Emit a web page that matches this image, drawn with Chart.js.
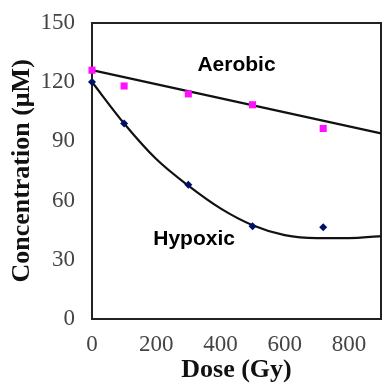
<!DOCTYPE html>
<html>
<head>
<meta charset="utf-8">
<script src="https://cdn.jsdelivr.net/npm/chart.js@4.4.0/dist/chart.umd.min.js"></script>
<style>
  html, body { margin: 0; padding: 0; background: #fff; overflow: hidden; }
  #wrap { width: 386px; height: 386px; }
</style>
</head>
<body>
<div id="wrap"><canvas id="myChart"></canvas></div>
<script>
// measured points
const aerobicDose = [0, 100, 300, 500, 720];
const aerobicConc = [126, 118, 114, 108.5, 96.5];
const hypoxicDose = [0, 100, 300, 500, 720];
const hypoxicConc = [120, 99, 68, 47, 46.5];

// fitted curves
const aerobicFitDose = [0, 900];
const aerobicFitConc = [126, 94];
const hypoxicFitDose = [0, 100, 200, 300, 400, 500, 600, 700, 800, 900];
const hypoxicFitConc = [120, 99, 81, 67.5, 56, 47.5, 42.5, 41, 41, 42];

const yTicks = [0, 30, 60, 90, 120, 150];
const xTicks = [0, 200, 400, 600, 800];

const notes = [
  { text: "Aerobic", x: 450, y: 128.5 },
  { text: "Hypoxic", x: 318, y: 40.5 }
];

const toXY = (xs, ys) => xs.map((x, i) => ({ x: x, y: ys[i] }));

const labelsPlugin = {
  id: "labelsPlugin",
  afterDraw(chart) {
    const ctx = chart.ctx;
    const sx = chart.scales.x, sy = chart.scales.y;
    ctx.save();
    ctx.fillStyle = "#000";
    ctx.font = "bold 21px 'Liberation Sans', Arial, sans-serif";
    ctx.textAlign = "center";
    ctx.textBaseline = "middle";
    notes.forEach(n => {
      ctx.fillText(n.text, sx.getPixelForValue(n.x), sy.getPixelForValue(n.y));
    });
    ctx.restore();
  }
};

const serif = "'Liberation Serif', 'Times New Roman', serif";
const axisLine = { display: true, color: "#222", width: 2 };

const config = {
  type: "scatter",
  data: {
    datasets: [
      {
        label: "Aerobic fit",
        data: toXY(aerobicFitDose, aerobicFitConc),
        showLine: true,
        borderColor: "#111",
        borderWidth: 2.2,
        pointRadius: 0,
        order: 2
      },
      {
        label: "Hypoxic fit",
        data: toXY(hypoxicFitDose, hypoxicFitConc),
        showLine: true,
        borderColor: "#111",
        borderWidth: 2.2,
        pointRadius: 0,
        cubicInterpolationMode: "monotone",
        order: 2
      },
      {
        label: "Aerobic",
        data: toXY(aerobicDose, aerobicConc),
        pointStyle: "rect",
        pointRadius: 5,
        backgroundColor: "#ff10ff",
        borderColor: "#ff10ff",
        borderWidth: 0,
        order: 1
      },
      {
        label: "Hypoxic",
        data: toXY(hypoxicDose, hypoxicConc),
        pointStyle: "rectRot",
        pointRadius: 4,
        backgroundColor: "#00106a",
        borderColor: "#00106a",
        borderWidth: 0,
        order: 1
      }
    ]
  },
  options: {
    responsive: true,
    maintainAspectRatio: false,
    animation: false,
    clip: false,
    layout: { padding: { top: 21, right: 0, left: 7, bottom: 0 } },
    plugins: { legend: { display: false }, tooltip: { enabled: false } },
    scales: {
      x: {
        type: "linear",
        min: 0, max: 900,
        afterBuildTicks: s => { s.ticks = xTicks.map(v => ({ value: v })); },
        afterFit: s => { s.height = 67; },
        grid: { display: false },
        border: axisLine,
        ticks: {
          color: "#444",
          padding: 4,
          maxRotation: 0,
          font: { family: serif, size: 23 }
        },
        title: {
          display: true,
          text: "Dose (Gy)",
          color: "#111",
          padding: { top: 2, bottom: 0 },
          font: { family: serif, size: 26, weight: "bold" }
        }
      },
      x2: {
        type: "linear",
        position: "top",
        min: 0, max: 900,
        afterFit: s => { s.height = 0; },
        grid: { display: false },
        border: axisLine,
        ticks: { display: false }
      },
      y: {
        min: 0, max: 150,
        afterBuildTicks: s => { s.ticks = yTicks.map(v => ({ value: v })); },
        afterFit: s => { s.width = 85; },
        grid: { display: false },
        border: axisLine,
        ticks: {
          color: "#444",
          padding: 9,
          font: { family: serif, size: 23 }
        },
        title: {
          display: true,
          text: "Concentration (\u03bcM)",
          color: "#111",
          padding: { top: 0, bottom: 0 },
          font: { family: serif, size: 26, weight: "bold" }
        }
      },
      y2: {
        position: "right",
        min: 0, max: 150,
        afterFit: s => { s.width = 0; },
        grid: { display: false },
        border: axisLine,
        ticks: { display: false }
      }
    }
  },
  plugins: [labelsPlugin]
};

const myChart = new Chart(document.querySelector("#myChart"), config);
</script>
</body>
</html>
